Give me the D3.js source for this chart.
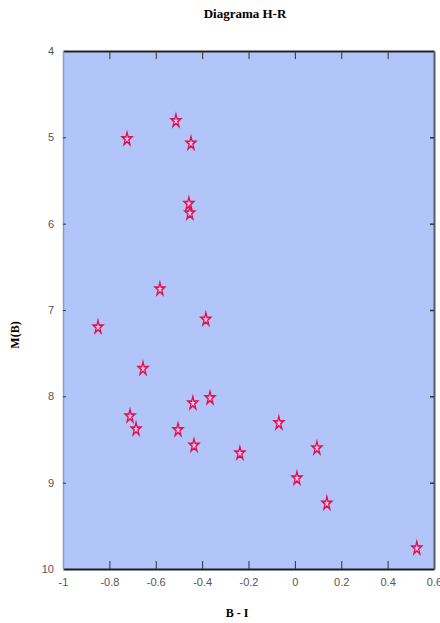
<!DOCTYPE html>
<html>
<head>
<meta charset="utf-8">
<script src="https://cdn.jsdelivr.net/npm/d3@7"></script>
<style>
  body { margin: 0; background: #fff; }
  .tick text { font-family: "Liberation Sans", Arial, sans-serif; font-size: 11px; fill: #555; }
</style>
</head>
<body>
<div class="graph"></div>
<script>
// B - I colour index and absolute magnitude M(B) of each star
var bi = [-0.513, -0.724, -0.448, -0.457, -0.453, -0.582, -0.849, -0.384, -0.655,
          -0.366, -0.440, -0.711, -0.685, -0.504, -0.435, -0.237, -0.069, 0.009,
          0.095, 0.138, 0.526];
var mb = [4.81, 5.02, 5.07, 5.77, 5.88, 6.76, 7.20, 7.11, 7.68,
          8.02, 8.08, 8.23, 8.38, 8.39, 8.57, 8.66, 8.31, 8.95,
          8.60, 9.24, 9.76];
var xTicks = [-1, -0.8, -0.6, -0.4, -0.2, 0, 0.2, 0.4, 0.6];
var yTicks = [4, 5, 6, 7, 8, 9, 10];

var stars = bi.map((d, i) => ({x: d, y: mb[i]}));

var margin = {top: 51, right: 6, bottom: 54, left: 63},
    width = 440 - margin.left - margin.right,
    height = 623 - margin.top - margin.bottom;

var svg = d3.select('div.graph')
    .append('svg')
        .attr('width', 440)
        .attr('height', 623)
    .append('g')
        .attr('transform', 'translate(' + margin.left + ',' + margin.top + ')');

var x = d3.scaleLinear().domain([-1, 0.6]).range([0, width]);
var y = d3.scaleLinear().domain([4, 10]).range([0, height]);

svg.append('rect')
    .attr('width', width)
    .attr('height', height)
    .attr('fill', '#b1c5f8');

// bottom axis with labels
svg.append('g')
    .attr('transform', 'translate(0,' + height + ')')
    .call(d3.axisBottom(x).tickValues(xTicks).tickFormat((d) => String(d)).tickSizeInner(-8).tickSizeOuter(0).tickPadding(9))
    .call(g => g.select('.domain').attr('stroke', '#1a1a2a').attr('stroke-width', 2))
    .call(g => g.selectAll('.tick line').attr('stroke', '#333'));

// top axis, ticks only
svg.append('g')
    .call(d3.axisTop(x).tickValues(xTicks.slice(1, -1)).tickFormat('').tickSizeInner(-8).tickSizeOuter(0))
    .call(g => g.select('.domain').attr('stroke', '#222').attr('stroke-width', 2))
    .call(g => g.selectAll('.tick line').attr('stroke', '#333'));

// left axis with labels
svg.append('g')
    .call(d3.axisLeft(y).tickValues(yTicks).tickFormat((d) => String(d)).tickSizeInner(0).tickSizeOuter(0).tickPadding(9))
    .call(g => g.select('.domain').attr('stroke', '#8c9cc4').attr('stroke-width', 1.5))
    .call(g => g.selectAll('.tick').filter(d => d > 4 && d < 10).select('line')
        .attr('x2', 3).attr('stroke', '#333'));

// right axis, ticks only
svg.append('g')
    .attr('transform', 'translate(' + width + ',0)')
    .call(d3.axisRight(y).tickValues(yTicks.slice(1, -1)).tickFormat('').tickSizeInner(-4).tickSizeOuter(0))
    .call(g => g.select('.domain').attr('stroke', '#555a66').attr('stroke-width', 2))
    .call(g => g.selectAll('.tick line').attr('stroke', '#333').attr('stroke-width', 1.5));

var star = d3.symbol().type(d3.symbolStar).size(40);

svg.selectAll('.star')
    .data(stars)
    .enter()
    .append('path')
        .attr('class', 'star')
        .attr('d', star)
        .attr('transform', (d) => 'translate(' + x(d.x) + ',' + y(d.y) + ') scale(0.85,1.15)')
        .attr('fill', '#f3c9dc')
        .attr('stroke', '#e0105a')
        .attr('stroke-width', 1.5);

var root = d3.select('svg');

root.append('text')
    .attr('x', 245)
    .attr('y', 18)
    .attr('text-anchor', 'middle')
    .style('font-family', '"Liberation Serif", "Times New Roman", serif')
    .style('font-weight', 'bold')
    .style('font-size', '13px')
    .text('Diagrama H-R');

root.append('text')
    .attr('x', 237)
    .attr('y', 617)
    .attr('text-anchor', 'middle')
    .style('font-family', '"Liberation Serif", "Times New Roman", serif')
    .style('font-weight', 'bold')
    .style('font-size', '12px')
    .text('B - I');

root.append('text')
    .attr('transform', 'translate(19,335) rotate(-90)')
    .attr('text-anchor', 'middle')
    .style('font-family', '"Liberation Serif", "Times New Roman", serif')
    .style('font-weight', 'bold')
    .style('font-size', '12px')
    .text('M(B)');
</script>
</body>
</html>
